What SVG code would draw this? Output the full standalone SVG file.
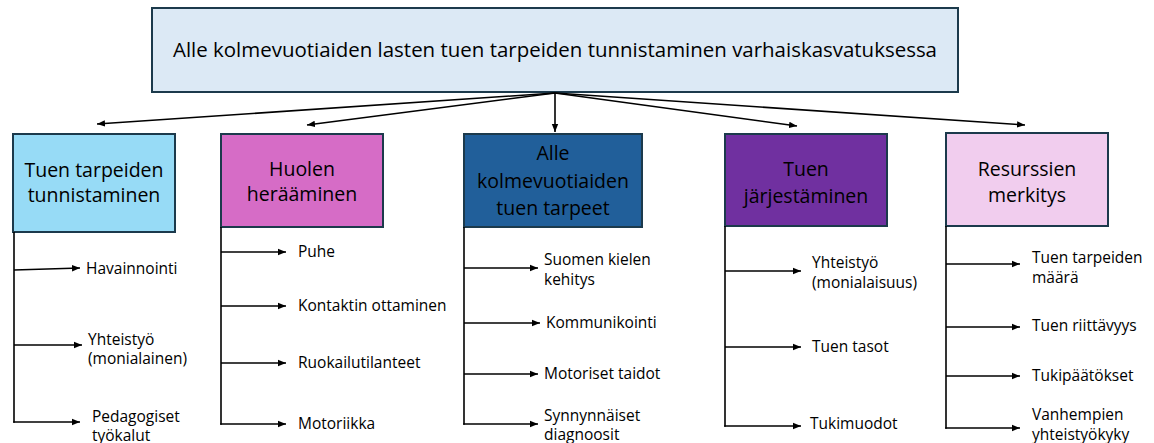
<svg xmlns="http://www.w3.org/2000/svg" width="1154" height="443" viewBox="0 0 1154 443">
  <style>
    .box { stroke: #1c3a4c; stroke-width: 2; }
    .title { font-family: "Open Sans", "Liberation Sans", sans-serif; font-size: 19.5px; fill: #000; text-anchor: middle; }
    .head { font-family: "Open Sans", "Liberation Sans", sans-serif; font-size: 19.5px; fill: #000; text-anchor: middle; }
    .item { font-family: "Open Sans", "Liberation Sans", sans-serif; font-size: 15.5px; fill: #000; }
    .link { stroke: #000; stroke-width: 1.6; fill: none; marker-end: url(#arrow); }
    .trunk { stroke: #000; stroke-width: 1.6; fill: none; }
  </style>
  <defs>
    <marker id="arrow" markerUnits="userSpaceOnUse" markerWidth="9" markerHeight="8" refX="8" refY="4" orient="auto">
      <path d="M0,0.8 L8,4 L0,7.2 Z" fill="#000"/>
    </marker>
  </defs>
  <rect width="1154" height="443" fill="#fff"/>

  <g id="root">
    <rect class="box" x="152" y="8" width="806" height="84" fill="#dce9f5"/>
    <text class="title" x="555" y="57" textLength="764" lengthAdjust="spacingAndGlyphs">Alle kolmevuotiaiden lasten tuen tarpeiden tunnistaminen varhaiskasvatuksessa</text>
  </g>

  <g id="node-tunnistaminen">
    <rect class="box" x="13" y="134" width="162" height="98" fill="#97dbf6"/>
    <text class="head" x="94" y="177">Tuen tarpeiden</text>
    <text class="head" x="94" y="202">tunnistaminen</text>
  </g>
  <g id="node-huoli">
    <rect class="box" x="221" y="134" width="162" height="93" fill="#d66cc6"/>
    <text class="head" x="302" y="176">Huolen</text>
    <text class="head" x="302" y="201">herääminen</text>
  </g>
  <g id="node-tarpeet">
    <rect class="box" x="464" y="134" width="178" height="93" fill="#215f9a"/>
    <text class="head" x="553" y="160">Alle</text>
    <text class="head" x="553" y="188">kolmevuotiaiden</text>
    <text class="head" x="553" y="215">tuen tarpeet</text>
  </g>
  <g id="node-jarjestaminen">
    <rect class="box" x="725" y="134" width="162" height="92" fill="#7030a0"/>
    <text class="head" x="806" y="176">Tuen</text>
    <text class="head" x="806" y="203">järjestäminen</text>
  </g>
  <g id="node-resurssit">
    <rect class="box" x="946" y="133" width="162" height="93" fill="#f1cdee"/>
    <text class="head" x="1027" y="176">Resurssien</text>
    <text class="head" x="1027" y="202">merkitys</text>
  </g>

  <g id="items-tunnistaminen">
    <text class="item" x="86" y="274">Havainnointi</text>
    <text class="item" x="88" y="345">Yhteistyö</text>
    <text class="item" x="88" y="364">(monialainen)</text>
    <text class="item" x="92" y="422">Pedagogiset</text>
    <text class="item" x="92" y="441">työkalut</text>
  </g>
  <g id="items-huoli">
    <text class="item" x="298" y="257">Puhe</text>
    <text class="item" x="298" y="311">Kontaktin ottaminen</text>
    <text class="item" x="298" y="368">Ruokailutilanteet</text>
    <text class="item" x="298" y="429">Motoriikka</text>
  </g>
  <g id="items-tarpeet">
    <text class="item" x="544" y="265">Suomen kielen</text>
    <text class="item" x="544" y="285">kehitys</text>
    <text class="item" x="546" y="328">Kommunikointi</text>
    <text class="item" x="544" y="379">Motoriset taidot</text>
    <text class="item" x="544" y="421">Synnynnäiset</text>
    <text class="item" x="544" y="440">diagnoosit</text>
  </g>
  <g id="items-jarjestaminen">
    <text class="item" x="812" y="268">Yhteistyö</text>
    <text class="item" x="812" y="288">(monialaisuus)</text>
    <text class="item" x="812" y="352">Tuen tasot</text>
    <text class="item" x="810" y="429">Tukimuodot</text>
  </g>
  <g id="items-resurssit">
    <text class="item" x="1032" y="263">Tuen tarpeiden</text>
    <text class="item" x="1032" y="283">määrä</text>
    <text class="item" x="1032" y="331">Tuen riittävyys</text>
    <text class="item" x="1032" y="381">Tukipäätökset</text>
    <text class="item" x="1032" y="420">Vanhempien</text>
    <text class="item" x="1032" y="440">yhteistyökyky</text>
  </g>

  <g id="connectors">
    <!-- from the root box to each category -->
    <line class="link" x1="555" y1="93" x2="97" y2="124"/>
    <line class="link" x1="555" y1="93" x2="307" y2="125"/>
    <line class="link" x1="555" y1="93" x2="555" y2="132"/>
    <line class="link" x1="555" y1="93" x2="797" y2="126"/>
    <line class="link" x1="555" y1="93" x2="1025" y2="125"/>

    <!-- vertical trunks under each category -->
    <line class="trunk" x1="14" y1="232" x2="14" y2="422.8"/>
    <line class="trunk" x1="221" y1="227" x2="221" y2="424.8"/>
    <line class="trunk" x1="464" y1="227" x2="464" y2="424.8"/>
    <line class="trunk" x1="725" y1="226" x2="725" y2="426.8"/>
    <line class="trunk" x1="946" y1="226" x2="946" y2="428.8"/>

    <!-- branches -->
    <line class="link" x1="14" y1="270" x2="80" y2="268"/>
    <line class="link" x1="14" y1="345" x2="82" y2="345"/>
    <line class="link" x1="13.2" y1="422" x2="80" y2="422"/>

    <line class="link" x1="221" y1="252" x2="286" y2="252"/>
    <line class="link" x1="221" y1="306" x2="286" y2="306"/>
    <line class="link" x1="221" y1="363" x2="286" y2="363"/>
    <line class="link" x1="220.2" y1="424" x2="286" y2="424"/>

    <line class="link" x1="464" y1="268" x2="538" y2="268"/>
    <line class="link" x1="464" y1="323" x2="540" y2="323"/>
    <line class="link" x1="464" y1="374" x2="538" y2="374"/>
    <line class="link" x1="463.2" y1="424" x2="538" y2="424"/>

    <line class="link" x1="725" y1="271" x2="801" y2="271"/>
    <line class="link" x1="725" y1="347" x2="801" y2="347"/>
    <line class="link" x1="724.2" y1="426" x2="801" y2="426"/>

    <line class="link" x1="946" y1="264" x2="1020" y2="264"/>
    <line class="link" x1="946" y1="327" x2="1020" y2="327"/>
    <line class="link" x1="946" y1="376" x2="1020" y2="376"/>
    <line class="link" x1="945.2" y1="428" x2="1020" y2="428"/>
  </g>
</svg>
